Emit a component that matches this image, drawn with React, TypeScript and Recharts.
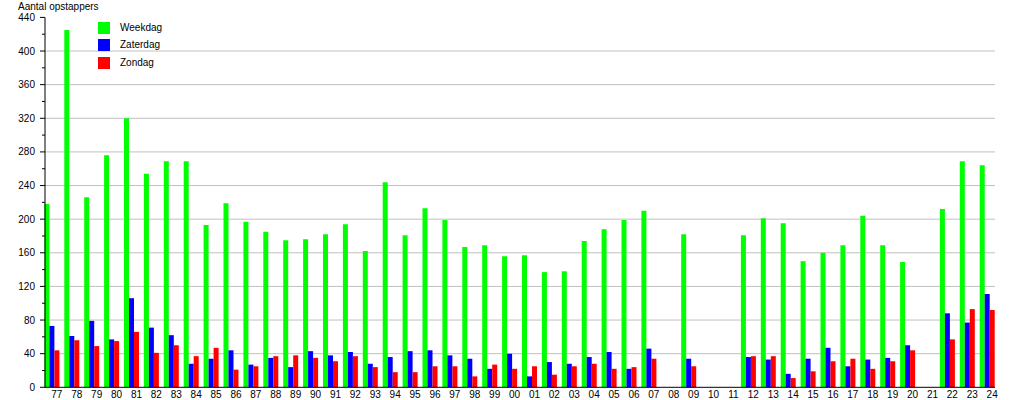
import React from 'react';
import { BarChart, Bar, XAxis, YAxis, CartesianGrid } from 'recharts';

const years = ['77','78','79','80','81','82','83','84','85','86','87','88','89','90','91','92','93','94','95','96','97','98','99','00','01','02','03','04','05','06','07','08','09','10','11','12','13','14','15','16','17','18','19','20','21','22','23','24'];
const weekdag = [218,425,226,276,320,254,269,269,193,219,197,185,175,176,182,194,162,244,181,213,199,167,169,156,157,137,138,174,188,199,210,0,182,0,0,181,201,195,150,160,169,204,169,149,0,212,269,264];
const zaterdag = [73,61,79,57,106,71,62,28,34,44,27,35,24,43,38,42,28,36,43,44,38,34,22,40,13,30,28,36,42,22,46,0,34,0,0,36,33,16,34,47,25,33,35,50,0,88,77,111];
const zondag = [44,56,49,55,66,41,50,37,47,21,25,37,38,35,31,37,24,18,18,25,25,13,27,22,25,15,25,28,22,24,34,0,25,0,0,37,37,11,19,31,34,22,31,44,0,57,93,92];
const yTicks = [0,20,40,60,80,100,120,140,160,180,200,220,240,260,280,300,320,340,360,380,400,420,440];
const gridValues = [40,80,120,160,200,240,280,320,360,400];
const seriesNames = ['Weekdag','Zaterdag','Zondag'];
const colors = ['#00ff00','#0000ff','#ff0000'];
const title = 'Aantal opstappers';

const data = years.map((y, i) => ({ year: y, weekdag: weekdag[i], zaterdag: zaterdag[i], zondag: zondag[i] }));

const FONT = 'Arial, "Liberation Sans", sans-serif';

const YTick = (props: any) => {
  const { x, y, payload } = props;
  const major = payload.value % 40 === 0;
  return (
    <g>
      <line x1={x - (major ? 5 : 3)} x2={x} y1={y} y2={y} stroke="#000" strokeWidth={1} />
      {major && (
        <text x={x - 10} y={y + 3.5} textAnchor="end" fontSize={10} fontFamily={FONT} fill="#000">
          {payload.value}
        </text>
      )}
    </g>
  );
};

const XTick = (props: any) => {
  const { x, y, payload } = props;
  return (
    <text x={x + 4.5} y={y + 11} textAnchor="middle" fontSize={10} fontFamily={FONT} fill="#000">
      {payload.value}
    </text>
  );
};

export default function App() {
  return (
    <div style={{ position: 'absolute', left: 0, top: 0, width: 1015, height: 400, background: '#fff', fontFamily: FONT }}>
      <BarChart
        width={1015}
        height={400}
        data={data}
        margin={{ top: 17.4, right: 20, left: 0, bottom: 0 }}
        barCategoryGap={2}
        barGap={0}
      >
        <CartesianGrid vertical={false} horizontalValues={gridValues} stroke="#c0c0c0" strokeWidth={1} />
        <XAxis
          dataKey="year"
          height={12.7}
          tickLine={false}
          tickSize={0}
          tickMargin={0}
          interval={0}
          padding={{ left: -2.6, right: -2.6 }}
          axisLine={{ stroke: '#000' }}
          tick={<XTick />}
        />
        <YAxis
          width={45}
          domain={[0, 440]}
          ticks={yTicks}
          interval={0}
          tickLine={false}
          tickSize={0}
          tickMargin={0}
          axisLine={{ stroke: '#000' }}
          tick={<YTick />}
        />
        <Bar dataKey="weekdag" name={seriesNames[0]} fill={colors[0]} isAnimationActive={false} />
        <Bar dataKey="zaterdag" name={seriesNames[1]} fill={colors[1]} isAnimationActive={false} />
        <Bar dataKey="zondag" name={seriesNames[2]} fill={colors[2]} isAnimationActive={false} />
      </BarChart>
      <div style={{ position: 'absolute', left: 18, top: 1, fontSize: 10, lineHeight: '11px', color: '#000' }}>{title}</div>
      <div style={{ position: 'absolute', left: 98, top: 22 }}>
        {seriesNames.map((n, i) => (
          <div key={n} style={{ display: 'flex', alignItems: 'center', height: 12, marginBottom: 5.3 }}>
            <div style={{ width: 12, height: 12, background: colors[i] }} />
            <span style={{ marginLeft: 10, fontSize: 10, lineHeight: '12px', color: '#000' }}>{n}</span>
          </div>
        ))}
      </div>
    </div>
  );
}
